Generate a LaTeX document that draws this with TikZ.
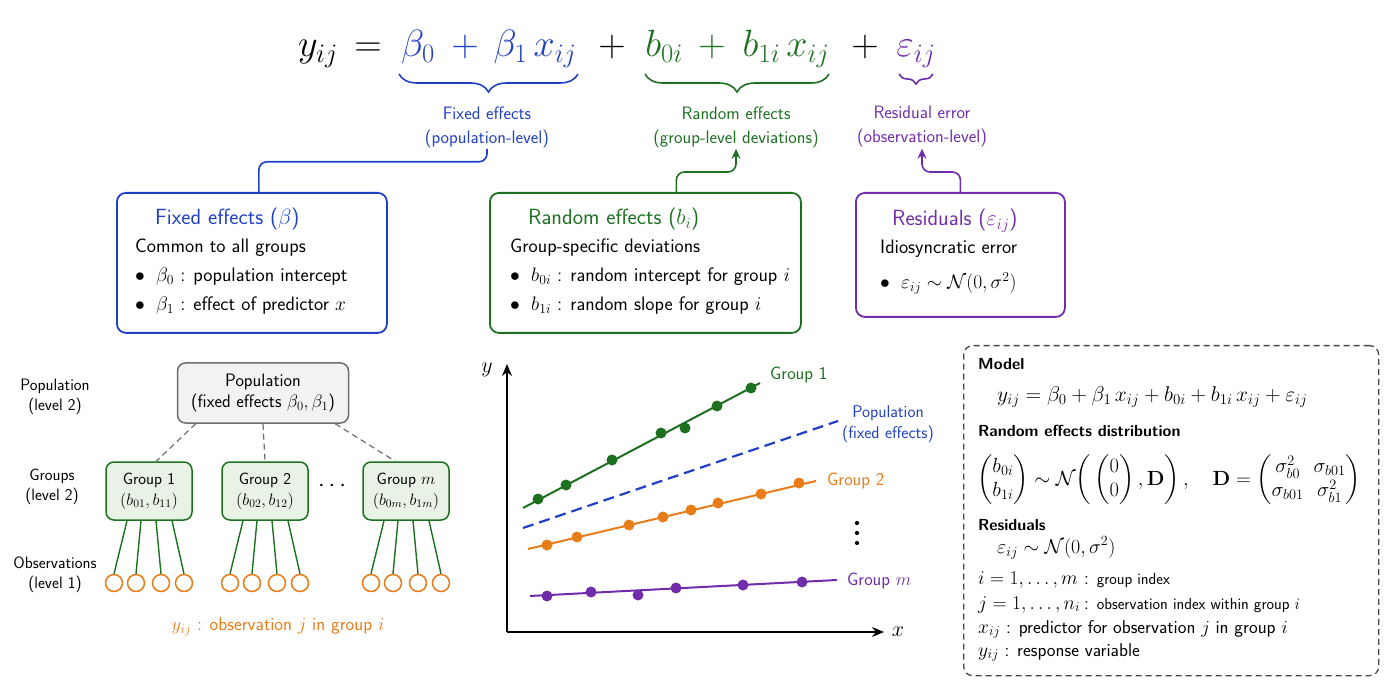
\RequirePackage{fix-cm}
\documentclass[tikz,border=0pt]{standalone}
\usepackage{amsmath}
\usetikzlibrary{decorations.pathreplacing,arrows.meta}
\definecolor{cblue}{RGB}{32,64,196}
\definecolor{cgreen}{RGB}{28,112,32}
\definecolor{cpurple}{RGB}{112,44,170}
\definecolor{corange}{RGB}{232,124,24}
\definecolor{cgray}{RGB}{110,110,110}
\definecolor{popfill}{RGB}{242,242,242}
\definecolor{grpfill}{RGB}{232,243,229}
\newcommand\fsz[2]{\fontsize{#1}{#2}\selectfont}
\newcommand\bul{\makebox[21pt][l]{$\bullet$}}
\begin{document}
\begin{tikzpicture}[x=1pt, y=-1pt, font=\sffamily,
  eqn/.style={anchor=base, font=\fsz{38}{44}, inner sep=0pt},
  brc/.style={decorate, decoration={brace, mirror, amplitude=18pt}, line width=1.6pt},
  lbl/.style={align=center, font=\sffamily\fsz{18}{24}, inner sep=1pt},
  conn/.style={line width=1.6pt, rounded corners=8pt},
  tip/.style={-{Stealth[length=10pt,width=9pt]}},
  box/.style={draw, line width=1.8pt, rounded corners=9pt, anchor=north west, inner sep=0pt},
  ttl/.style={anchor=base west, font=\sffamily\fsz{22}{25}, inner sep=0pt},
  bod/.style={anchor=base west, font=\sffamily\fsz{19.5}{23}, text=black, inner sep=0pt},
  side/.style={align=center, font=\sffamily\fsz{16.5}{20}, inner sep=0pt},
  popbox/.style={draw=cgray, fill=popfill, line width=1.5pt, rounded corners=8pt, minimum width=171pt, minimum height=60pt, align=center, font=\sffamily\fsz{18}{21}, inner sep=0pt},
  grpbox/.style={draw=cgreen, fill=grpfill, line width=1.5pt, rounded corners=8pt, minimum width=86pt, minimum height=58pt, align=center, font=\sffamily\fsz{16.5}{21}, inner sep=0pt},
  obs/.style={circle, draw=corange, line width=1.5pt, fill=white, minimum size=17pt, inner sep=0pt},
  popline/.style={draw=cgray, line width=1.2pt, dash pattern=on 6pt off 4pt},
  fitline/.style={line width=2pt},
  pt/.style={circle, fill, inner sep=0pt, minimum size=11pt},
  plbl/.style={font=\sffamily\fsz{18}{22}, inner sep=0pt},
  hd/.style={anchor=base west, font=\sffamily\bfseries\fsz{16}{20}, inner sep=0pt},
  rtxt/.style={anchor=base west, font=\sffamily\fsz{18.5}{21}, inner sep=0pt}
]
\useasboundingbox (0,0) rectangle (1400,700);

% ---------- main equation ----------
\node[eqn] (ey) at (318,57) {$y_{ij}$};
\node[eqn] (eeq) at (368,57) {$=$};
\node[eqn, text=cblue] (eb0) at (418,57) {$\beta_0$};
\node[eqn, text=cblue] (ep1) at (465,57) {$+$};
\node[eqn, text=cblue] (eb1) at (535,57) {$\beta_1\,x_{ij}$};
\node[eqn] (ep2) at (612,57) {$+$};
\node[eqn, text=cgreen] (eu0) at (664,57) {$b_{0i}$};
\node[eqn, text=cgreen] (ep3) at (712,57) {$+$};
\node[eqn, text=cgreen] (eu1) at (786,57) {$b_{1i}\,x_{ij}$};
\node[eqn] (ep4) at (865,57) {$+$};
\node[eqn, text=cpurple] (eeps) at (916,57) {$\varepsilon_{ij}$};

\draw[brc, cblue] (399,74) -- (578,74);
\draw[brc, cgreen] (645,74) -- (829,74);
\draw[brc, cpurple, decoration={brace, mirror, amplitude=10pt}] (899,74) -- (933,74);

\node[lbl, text=cblue] (fixlbl) at (487,127) {Fixed effects\\(population-level)};
\node[lbl, text=cgreen] (randlbl) at (736,127) {Random effects\\(group-level deviations)};
\node[lbl, text=cpurple] (reslbl) at (922,127) {Residual error\\(observation-level)};

% ---------- boxes ----------
\node[box, draw=cblue, minimum width=270pt, minimum height=140pt] (fixbox) at (116,192) {};
\node[ttl, text=cblue] (fixT) at (155,225) {Fixed effects ($\beta$)};
\node[bod] (fixB) at (135,253) {Common to all groups};
\node[bod] (fix1) at (135,282) {\bul$\beta_0$ : population intercept};
\node[bod] (fix2) at (135,311) {\bul$\beta_1$ : effect of predictor $x$};

\node[box, draw=cgreen, minimum width=311pt, minimum height=140pt] (randbox) at (489,192) {};
\node[ttl, text=cgreen] (randT) at (528,225) {Random effects ($b_i$)};
\node[bod] (randB) at (510,253) {Group-specific deviations};
\node[bod] (rand1) at (510,282) {\bul$b_{0i}$ : random intercept for group $i$};
\node[bod] (rand2) at (510,311) {\bul$b_{1i}$ : random slope for group $i$};

\node[box, draw=cpurple, minimum width=209pt, minimum height=124pt] (resbox) at (855,192) {};
\node[ttl, text=cpurple] (resT) at (892,226) {Residuals ($\varepsilon_{ij}$)};
\node[bod] (resB) at (880,254) {Idiosyncratic error};
\node[bod] (res1) at (880,289) {\bul$\varepsilon_{ij}\sim\mathcal{N}(0,\sigma^2)$};

% connectors
\draw[conn, cblue] (fixlbl.south) -- ++(0,13) -| ([xshift=7pt]fixbox.north);
\draw[conn, cgreen, tip] ([xshift=31pt]randbox.north) -- ++(0,-20) -| (randlbl.south);
\draw[conn, cpurple, tip] (resbox.north) -- ++(0,-20) -| (reslbl.south);

% ---------- hierarchy ----------
\node[side] (sPop) at (55,397) {Population\\(level 2)};
\node[side] (sGrp) at (52,487) {Groups\\(level 2)};
\node[side] (sObs) at (55,575) {Observations\\(level 1)};

\node[popbox] (pop) at (263,393) {Population\\(fixed effects $\beta_0, \beta_1$)};
\node[grpbox] (g1) at (149,491) {Group 1\\$(b_{01}, b_{11})$};
\node[grpbox] (g2) at (265,491) {Group 2\\$(b_{02}, b_{12})$};
\node[grpbox] (g3) at (406,491) {Group $m$\\$(b_{0m}, b_{1m})$};
\node[font=\fsz{24}{26}] (gdots) at (334,486) {$\cdots$};

\draw[popline] ([xshift=19pt]pop.south west) -- ([xshift=51pt]g1.north west);
\draw[popline] (pop.south) -- (g2.north);
\draw[popline] ([xshift=-14pt]pop.south east) -- ([xshift=33pt]g3.north west);

\foreach \g/\cx in {1/149, 2/265, 3/406} {
  \foreach \k/\ox/\lx in {1/-35/-22, 2/-13/-8, 3/12/7, 4/35/23} {
    \node[obs] (o\g\k) at (\cx+\ox,583) {};
    \draw[cgreen, line width=1.4pt] ([xshift=\lx pt]g\g.south) -- (o\g\k.north);
  }
}
\node[font=\sffamily\fsz{18.5}{22}, text=corange] (cap) at (278,627) {$y_{ij}$ : observation $j$ in group $i$};

% ---------- plot ----------
\coordinate (O) at (507,632);
\coordinate (ytop) at (507,364);
\coordinate (xend) at (884,632);
\draw[line width=1.6pt, -{Stealth[length=12pt,width=10pt]}] (O) -- (ytop);
\draw[line width=1.6pt, -{Stealth[length=12pt,width=10pt]}] (O) -- (xend);
\node[font=\fsz{22}{24}] (ylab) at (487,370) {$y$};
\node[font=\fsz{22}{24}] (xlab) at (898,632) {$x$};

\draw[fitline, cgreen] (523,508) -- (760,383);
\foreach \p in {(538,499),(566,485),(612,460),(661,433),(685,428),(717,406),(751,388)}
  \node[pt, cgreen] at \p {};
\node[plbl, text=cgreen, anchor=west] (lg1) at (770,375) {Group 1};

\draw[fitline, cblue, line width=2.2pt, dash pattern=on 11pt off 6pt] (523,528) -- (838,421);
\node[plbl, text=cblue, align=center, font=\sffamily\fsz{17}{21}] (lpop) at (888,424) {Population\\(fixed effects)};

\draw[fitline, corange] (528,549) -- (816,481);
\foreach \p in {(547,545),(577,537),(629,525),(663,517),(691,510),(718,503),(761,494),(799,483)}
  \node[pt, corange] at \p {};
\node[plbl, text=corange, anchor=west] (lg2) at (827,481) {Group 2};
\foreach \yy in {523,533,543} \fill (857,\yy) circle (2.1pt);

\draw[fitline, cpurple] (530,596) -- (837,580);
\foreach \p in {(547,596),(591,592),(638,595),(676,588),(743,585),(802,582)}
  \node[pt, cpurple] at \p {};
\node[plbl, text=cpurple, anchor=west] (lgm) at (847,581) {Group $m$};

% ---------- legend panel ----------
\node[draw={rgb,255:red,70;green,70;blue,70}, line width=1.3pt, dash pattern=on 6pt off 4pt, rounded corners=9pt, minimum width=415pt, minimum height=330pt, anchor=north west, inner sep=0pt] (legend) at (963,345) {};

\node[hd] (hModel) at (978,370) {Model};
\node[anchor=base west, font=\fsz{21.4}{24}, inner sep=0pt] (mEq) at (997,401) {$y_{ij} = \beta_0 + \beta_1\, x_{ij} + b_{0i} + b_{1i}\, x_{ij} + \varepsilon_{ij}$};
\node[hd] (hRand) at (978,436) {Random effects distribution};
\node[anchor=base west, font=\fsz{20.5}{24}, inner sep=0pt, text height=18pt, text depth=16pt] (mDist) at (977,485) {\smash{$\begin{pmatrix} b_{0i}\\ b_{1i}\end{pmatrix} \sim \mathcal{N}\!\left(\,\begin{pmatrix}0\\0\end{pmatrix}, \mathbf{D}\right),\quad \mathbf{D} = \begin{pmatrix}\sigma_{b0}^2 & \sigma_{b01}\\ \sigma_{b01} & \sigma_{b1}^2\end{pmatrix}$}};
\node[hd] (hRes) at (978,530) {Residuals};
\node[anchor=base west, font=\fsz{20}{24}, inner sep=0pt] (mRes) at (997,553) {$\varepsilon_{ij} \sim \mathcal{N}(0, \sigma^2)$};
\node[rtxt] (lI) at (978,584) {\makebox[106pt][l]{\fsz{19.5}{21}$i = 1, \ldots, m$}: {\fsz{16}{19}group index}};
\node[rtxt] (lJ) at (978,609) {\makebox[106pt][l]{\fsz{19.5}{21}$j = 1, \ldots, n_i$}: {\fsz{16}{19}observation index within group $i$}};
\node[rtxt] (lX) at (978,633) {{\fsz{19.5}{21}$x_{ij}$}\ : predictor for observation $j$ in group $i$};
\node[rtxt] (lY) at (978,656) {{\fsz{19.5}{21}$y_{ij}$}\ : response variable};
\end{tikzpicture}
\end{document}
